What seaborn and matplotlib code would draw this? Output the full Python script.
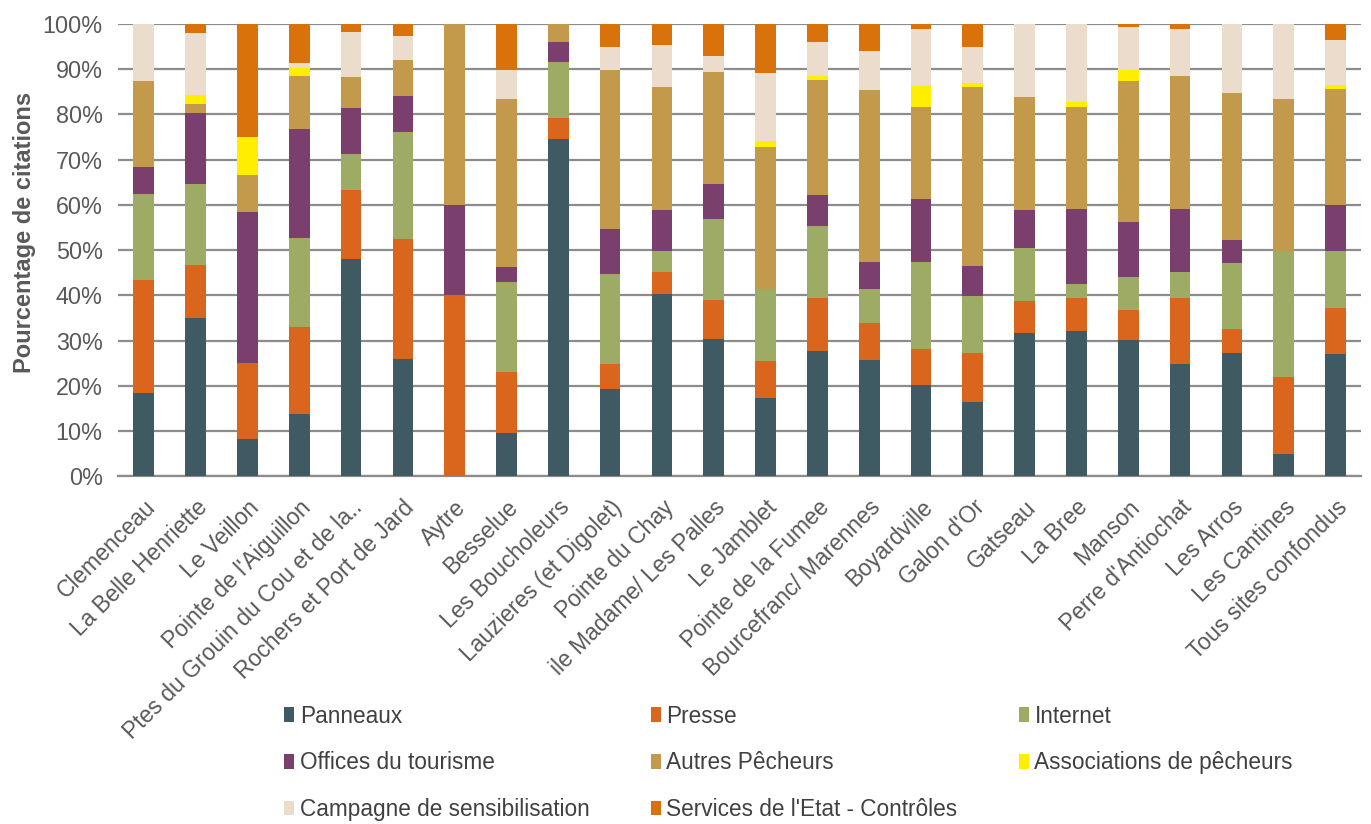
import numpy as np
import pandas as pd
import matplotlib
matplotlib.use("Agg")
import matplotlib.pyplot as plt
from matplotlib.patches import Patch
import seaborn as sns

# Sites (x axis)
sites = ["Clemenceau", "La Belle Henriette", "Le Veillon", "Pointe de l'Aiguillon",
         "Ptes du Grouin du Cou et de la..", "Rochers et Port de Jard", "Aytre", "Besselue",
         "Les Boucholeurs", "Lauzieres (et Digolet)", "Pointe du Chay", "ile Madame/ Les Palles",
         "Le Jamblet", "Pointe de la Fumee", "Bourcefranc/ Marennes", "Boyardville",
         "Galon d'Or", "Gatseau", "La Bree", "Manson", "Perre d'Antiochat", "Les Arros",
         "Les Cantines", "Tous sites confondus"]

# Share of citations per source (%)
panneaux = [18.5, 34.9, 8.3, 13.8, 48.0, 26.0, 0, 9.5, 74.6, 19.4, 40.3, 30.3,
            17.2, 27.6, 25.6, 20.2, 16.5, 31.6, 32.2, 30.2, 24.8, 27.3, 5.0, 27.0]
presse = [24.9, 11.8, 16.7, 19.1, 15.3, 26.5, 40, 13.6, 4.5, 5.4, 4.8, 8.7,
          8.2, 11.9, 8.3, 8.0, 10.8, 7.1, 7.3, 6.5, 14.5, 5.2, 17.0, 10.3]
internet = [19.1, 17.9, 0, 19.8, 8.0, 23.5, 0, 19.9, 12.5, 19.9, 4.8, 17.9,
            16.1, 15.8, 7.4, 19.1, 12.5, 11.8, 3.0, 7.4, 5.8, 14.7, 27.9, 12.6]
offices = [5.9, 15.6, 33.3, 24.1, 10.1, 8.0, 20, 3.3, 4.3, 10.0, 9.0, 7.6,
           0, 6.9, 6.0, 14.0, 6.6, 8.3, 16.5, 12.2, 13.9, 5.1, 0, 10.1]
autres = [19.0, 2.0, 8.3, 11.7, 6.8, 8.0, 40, 37.0, 4.1, 35.2, 27.2, 24.9,
          31.3, 25.5, 38.1, 20.4, 39.7, 25.1, 22.7, 31.1, 29.5, 32.5, 33.4, 25.7]
assoc = [0, 2.1, 8.3, 1.7, 0, 0, 0, 0, 0, 0, 0, 0,
         1.3, 0.8, 0, 4.6, 0.9, 0, 1.1, 2.5, 0, 0, 0, 0.8]
campagne = [12.6, 13.6, 0, 1.2, 10.1, 5.3, 0, 6.6, 0, 5.1, 9.2, 3.6,
            15.0, 7.4, 8.6, 12.5, 8.0, 16.1, 17.2, 9.4, 10.3, 15.2, 16.7, 10.0]
services = [0, 2.1, 25.0, 8.6, 1.7, 2.7, 0, 10.1, 0, 5.0, 4.7, 7.0,
            10.9, 4.1, 6.0, 1.2, 5.0, 0, 0, 0.7, 1.2, 0, 0, 3.5]

series_names = ["Panneaux", "Presse", "Internet", "Offices du tourisme", "Autres Pêcheurs",
                "Associations de pêcheurs", "Campagne de sensibilisation",
                "Services de l'Etat - Contrôles"]
colors = ["#3f5a62", "#d9661c", "#9dab64", "#7b3f6e", "#c39a4c", "#ffee00",
          "#ebdccb", "#d9720a"]

df = pd.DataFrame(dict(zip(series_names,
                           [panneaux, presse, internet, offices, autres, assoc, campagne, services])),
                  index=sites)
# 100% stacked
df = df.div(df.sum(axis=1), axis=0) * 100
cum = df.cumsum(axis=1)

sns.set_style("white")
plt.rcParams['font.family'] = ['Liberation Sans', 'DejaVu Sans']
grey = "#595959"
gridc = "#8c8c8c"

fig = plt.figure(figsize=(13.71, 8.24), dpi=100)
ax = fig.add_axes([0.086, 0.422, 0.907, 0.549])

# draw cumulative layers from top to bottom so each one covers the previous
for name, col in reversed(list(zip(series_names, colors))):
    sns.barplot(x=sites, y=cum[name].values, color=col, saturation=1, width=0.4,
                edgecolor="none", linewidth=0, ax=ax, zorder=3)

ax.set_ylim(0, 100)
ax.set_xlim(-0.5, len(sites) - 0.5)
ax.set_yticks(np.arange(0, 101, 10))
ax.set_yticklabels([f"{v}%" for v in range(0, 101, 10)], fontsize=16.8, color=grey)
ax.yaxis.grid(True, color=gridc, linewidth=1.6, zorder=0)
ax.set_axisbelow(True)

for s in ["top", "right", "left"]:
    ax.spines[s].set_visible(False)
ax.spines["bottom"].set_color(gridc)
ax.spines["bottom"].set_linewidth(1.6)

ax.set_xticks(np.arange(len(sites)))
ax.set_xticklabels(sites, rotation=45, ha="right", rotation_mode="anchor",
                   fontsize=16.5, color=grey)
ax.tick_params(axis="x", which="major", length=0, pad=14)
ax.set_xticks(np.arange(len(sites) + 1) - 0.5, minor=True)
ax.tick_params(axis="x", which="minor", length=6, width=1.4, color=gridc, direction="out")
ax.tick_params(axis="y", length=7, width=1.4, color=gridc, pad=4)

ax.set_xlabel("")
ax.set_ylabel("Pourcentage de citations", fontsize=17, fontweight="bold", color=grey)
ax.yaxis.set_label_coords(-0.066, 0.54)

handles = [Patch(facecolor=c, edgecolor="none") for c in colors]
order = [0, 3, 6, 1, 4, 7, 2, 5]
fig.legend([handles[i] for i in order], [series_names[i] for i in order],
           loc="upper left", bbox_to_anchor=(0.207, 0.145), ncol=3, frameon=False,
           fontsize=16.3, handlelength=0.45, handleheight=0.62, handletextpad=0.25,
           labelspacing=1.05, columnspacing=2.7, borderpad=0, borderaxespad=0,
           labelcolor="#404040")

fig.savefig("out.png", dpi=100)
